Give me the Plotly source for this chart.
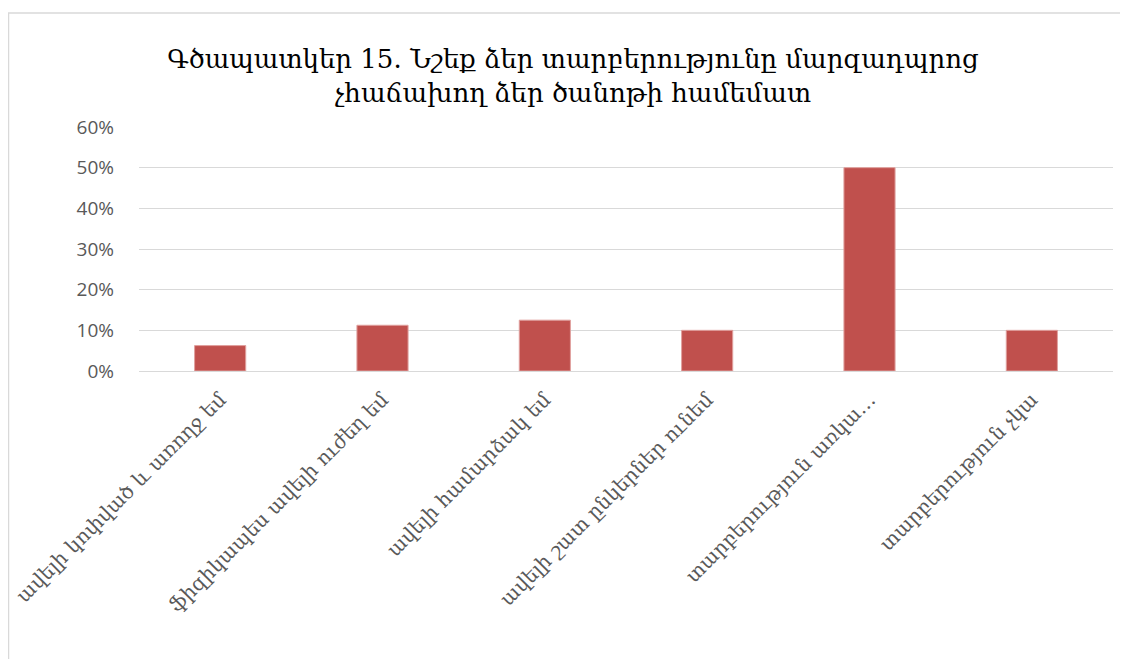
import plotly.graph_objects as go

categories = [
    "ավելի կոփված և առողջ եմ",
    "ֆիզիկապես ավելի ուժեղ եմ",
    "ավելի համարձակ եմ",
    "ավելի շատ ընկերներ ունեմ",
    "տարբերություն առկա…",
    "տարբերություն չկա",
]
values = [0.0625, 0.1125, 0.125, 0.10, 0.50, 0.10]
y_ticks = [0, 0.1, 0.2, 0.3, 0.4, 0.5, 0.6]
y_tick_labels = ["0%", "10%", "20%", "30%", "40%", "50%", "60%"]
title_text = "Գծապատկեր 15․ Նշեք ձեր տարբերությունը մարզադպրոց<br>չհաճախող ձեր ծանոթի համեմատ"

# page has an 8px body margin, so the figure is offset by (8, 8)
OFF = 8
W, H = 1120, 651
L, R, T, B = 131, 15, 119, 288
pw = W - L - R
ph = H - T - B

fig = go.Figure(
    go.Bar(
        x=categories,
        y=values,
        marker=dict(color="#C0504D", line=dict(color="#E0A09E", width=1)),
        width=0.315,
        hoverinfo="x+y",
    )
)

fig.update_layout(
    width=W,
    height=H,
    margin=dict(l=L, r=R, t=T, b=B),
    paper_bgcolor="white",
    plot_bgcolor="white",
    showlegend=False,
    title=dict(
        text=title_text,
        x=(573 - OFF) / W,
        xref="container",
        xanchor="center",
        y=1 - 60 / H,
        yref="container",
        yanchor="middle",
        font=dict(family="DejaVu Serif", size=26, color="#000000"),
    ),
    xaxis=dict(
        tickangle=-45,
        tickfont=dict(family="DejaVu Serif", size=20, color="#595959"),
        showgrid=False,
        showline=False,
        ticks="",
        ticklabelstandoff=12,
        automargin=False,
    ),
    yaxis=dict(
        range=[0, 0.6],
        tickvals=y_ticks,
        ticktext=y_tick_labels,
        tickfont=dict(family="Open Sans", size=19, color="#595959"),
        showgrid=True,
        gridcolor="#D9D9D9",
        gridwidth=1,
        zeroline=True,
        zerolinecolor="#D9D9D9",
        zerolinewidth=1,
        showline=False,
        ticks="",
        ticklabelstandoff=24,
        automargin=False,
    ),
    shapes=[
        dict(
            type="rect",
            xref="paper",
            yref="paper",
            x0=(0.5 - L) / pw,
            x1=(W + 20 - L) / pw,
            y0=(H - B - (H + 20)) / ph,
            y1=(H - B - 5) / ph,
            line=dict(color="#D9D9D9", width=1.5),
            fillcolor="rgba(0,0,0,0)",
            layer="below",
        )
    ],
)

fig.write_html("out.html")
